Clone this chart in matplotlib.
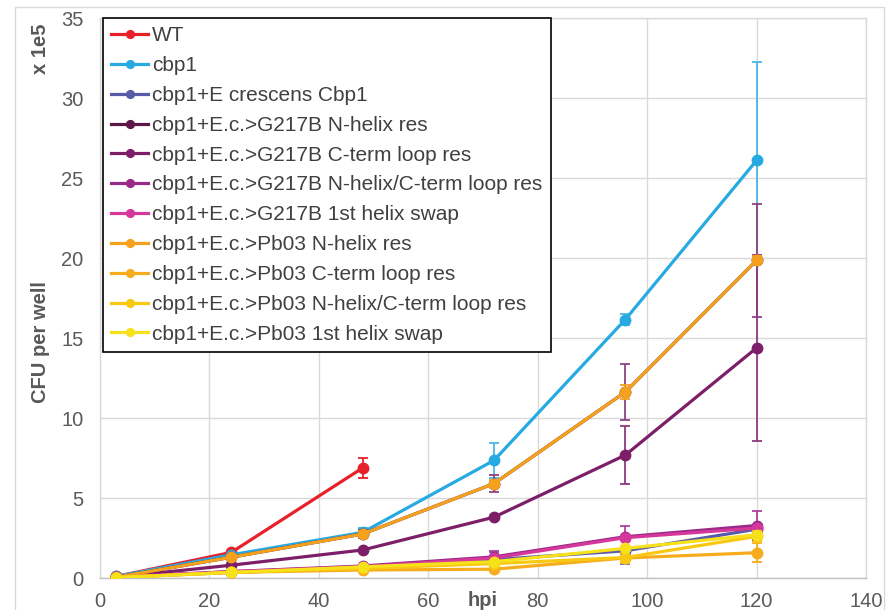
import matplotlib
matplotlib.use("Agg")
import matplotlib.pyplot as plt
from matplotlib.patches import Rectangle
import numpy as np

plt.rcParams['font.family'] = ['Liberation Sans', 'DejaVu Sans']

hpi = [3, 24, 48, 72, 96, 120]

labels = [
    "WT",
    "cbp1",
    "cbp1+E crescens Cbp1",
    "cbp1+E.c.>G217B N-helix res",
    "cbp1+E.c.>G217B C-term loop res",
    "cbp1+E.c.>G217B N-helix/C-term loop res",
    "cbp1+E.c.>G217B 1st helix swap",
    "cbp1+E.c.>Pb03 N-helix res",
    "cbp1+E.c.>Pb03 C-term loop res",
    "cbp1+E.c.>Pb03 N-helix/C-term loop res",
    "cbp1+E.c.>Pb03 1st helix swap",
]
colors = ["#E8202A", "#27AAE1", "#5A5BA8", "#5C1648", "#7D1F68", "#9A2A88",
          "#D6379A", "#F4A11E", "#F6AC1C", "#F8C812", "#F6E11A"]
err_colors = ["#E8202A", "#4BB6E6", "#6A6BB5", "#8E4480", "#8E3A7E", "#A8449A",
              "#D6379A", "#F4A11E", "#F6AC1C", "#F8C812", "#F6E11A"]

wt        = [0.10, 1.60, 6.88, None, None, None]
cbp1      = [0.10, 1.45, 2.85, 7.35, 16.15, 26.10]
ecres     = [0.05, 0.35, 0.60, 1.15, 1.70, 3.05]
g_nhelix  = [0.05, 1.30, 2.75, 5.90, 11.62, 19.85]
g_cterm   = [0.05, 0.80, 1.75, 3.80, 7.68, 14.38]
g_both    = [0.05, 0.40, 0.75, 1.32, 2.58, 3.28]
g_swap    = [0.05, 0.40, 0.70, 1.25, 2.52, 3.12]
p_nhelix  = [0.05, 1.30, 2.75, 5.90, 11.62, 19.85]
p_cterm   = [0.03, 0.35, 0.50, 0.55, 1.25, 1.58]
p_both    = [0.03, 0.35, 0.60, 0.90, 1.28, 2.60]
p_swap    = [0.03, 0.35, 0.70, 1.02, 1.85, 2.70]

wt_err       = [0, 0.10, 0.60, 0, 0, 0]
cbp1_err     = [0, 0, 0.30, 1.10, 0.35, 6.15]
ecres_err    = [0, 0, 0, 0.50, 0.80, 0]
g_nhelix_err = [0, 0, 0.25, 0.55, 1.75, 3.55]
g_cterm_err  = [0, 0, 0, 0, 1.80, 5.80]
g_both_err   = [0, 0, 0, 0.35, 0.67, 0.90]
g_swap_err   = [0, 0, 0, 0, 0, 0]
p_nhelix_err = [0, 0, 0.20, 0.25, 0.45, 0.25]
p_cterm_err  = [0, 0, 0, 0, 0.30, 0.60]
p_both_err   = [0, 0, 0, 0, 0, 0.35]
p_swap_err   = [0, 0, 0, 0, 0, 0]

series = [wt, cbp1, ecres, g_nhelix, g_cterm, g_both, g_swap,
          p_nhelix, p_cterm, p_both, p_swap]
errors = [wt_err, cbp1_err, ecres_err, g_nhelix_err, g_cterm_err, g_both_err,
          g_swap_err, p_nhelix_err, p_cterm_err, p_both_err, p_swap_err]

W, H = 892, 610
fig = plt.figure(figsize=(W / 100, H / 100), dpi=100)
L, R, T, B = 100, 866, 18, 578
ax = fig.add_axes([L / W, 1 - B / H, (R - L) / W, (B - T) / H])

fig.patches.append(Rectangle((15 / W, -0.1), (884 - 15) / W, 1.1 - 7 / H,
                             transform=fig.transFigure, fill=False,
                             edgecolor="#D9D9D9", linewidth=1.0))

handles = []
for i, (ys, es) in enumerate(zip(series, errors)):
    xs = [x for x, y in zip(hpi, ys) if y is not None]
    yv = [y for y in ys if y is not None]
    ev = [e for e, y in zip(es, ys) if y is not None]
    xe = [x for x, e in zip(xs, ev) if e > 0]
    ye = [y for y, e in zip(yv, ev) if e > 0]
    ee = [e for e in ev if e > 0]
    if ee:
        ax.errorbar(xe, ye, yerr=ee, fmt='none', ecolor=err_colors[i],
                    elinewidth=1.3, capsize=3.5, capthick=1.3, zorder=2 + i * 0.1)
    h, = ax.plot(xs, yv, '-o', color=colors[i], lw=2.3, ms=7.5,
                 label=labels[i], zorder=2.05 + i * 0.1)
    handles.append(h)

ax.set_xlim(0, 140)
ax.set_ylim(0, 35)
ax.set_xticks(range(0, 141, 20))
ax.set_yticks(range(0, 36, 5))
ax.grid(True, color="#D9D9D9", linewidth=1.0)
ax.set_axisbelow(True)
for s in ax.spines.values():
    s.set_color("#D9D9D9")
    s.set_linewidth(1.0)
ax.spines['bottom'].set_color("#BFBFBF")
ax.tick_params(length=0, labelsize=14.5, labelcolor="#595959")
ax.tick_params(axis='x', pad=10)
ax.tick_params(axis='y', pad=12)

fig.text(41 / W, 1 - 342 / H, "CFU per well", rotation=90, fontsize=14.5,
         fontweight='bold', color="#595959", ha='center', va='center')
fig.text(41 / W, 1 - 49 / H, "x 1e5", rotation=90, fontsize=14.5,
         fontweight='bold', color="#595959", ha='center', va='center')
fig.text(483 / W, 1 - 600 / H, "hpi", fontsize=14.5, fontweight='bold',
         color="#595959", ha='center', va='center')

leg = ax.legend(handles=handles, loc='upper left', bbox_to_anchor=(0.004, 1.0),
                fontsize=15, frameon=True, fancybox=False, framealpha=1,
                edgecolor='black', labelcolor="#404040", handlelength=1.75,
                handletextpad=0.2, labelspacing=0.52, borderpad=0.4,
                markerscale=0.75, borderaxespad=0)
leg.get_frame().set_linewidth(1.2)
leg.set_zorder(10)

fig.savefig("out.png", dpi=100)
